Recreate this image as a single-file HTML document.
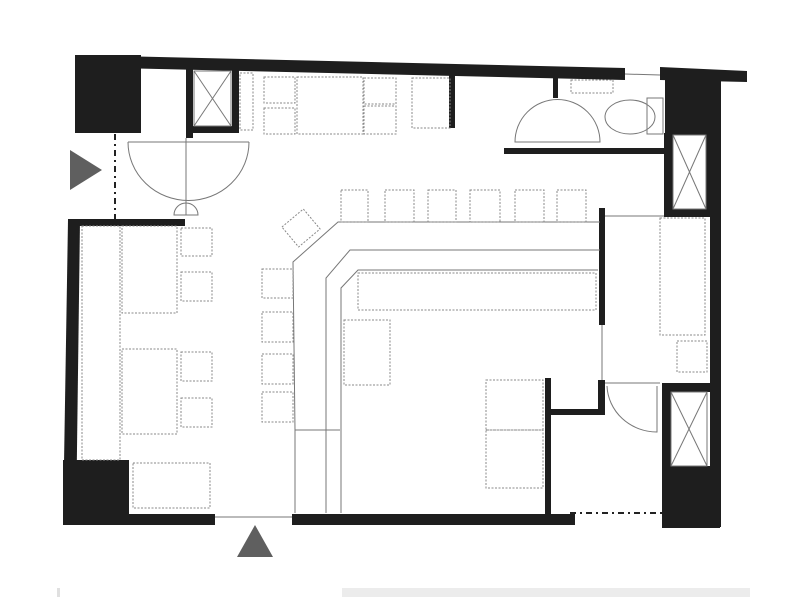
<!DOCTYPE html>
<html><head><meta charset="utf-8"><style>html,body{margin:0;padding:0;background:#fff}svg{display:block}</style></head>
<body>
<svg width="787" height="597" viewBox="0 0 787 597" xmlns="http://www.w3.org/2000/svg">
<rect width="787" height="597" fill="#fff"/>
<g fill="#1e1e1e">
<rect x="75" y="55" width="66" height="78"/>
<polygon points="75,55 625,68 625,80 75,67"/>
<polygon points="660,67 747,71 747,82 660,80"/>
<rect x="665" y="78" width="45" height="57"/>
<rect x="710" y="80" width="11" height="447"/>
<rect x="186" y="66" width="7" height="72"/>
<rect x="232" y="66" width="7" height="67"/>
<rect x="186" y="126" width="53" height="7"/>
<rect x="449" y="72" width="6" height="56"/>
<rect x="553" y="74" width="5" height="24"/>
<rect x="504" y="148" width="166" height="6"/>
<rect x="664" y="133" width="9" height="84"/>
<rect x="664" y="209" width="50" height="8"/>
<rect x="706" y="133" width="5" height="84"/>
<polygon points="68,220 80,220 76,525 63,525"/>
<rect x="68" y="219" width="117" height="7"/>
<rect x="63" y="460" width="66" height="65"/>
<rect x="63" y="514" width="152" height="11"/>
<rect x="292" y="514" width="283" height="11"/>
<rect x="545" y="378" width="6" height="140"/>
<rect x="548" y="409" width="56" height="6"/>
<rect x="598" y="380" width="7" height="35"/>
<rect x="599" y="208" width="6" height="117"/>
<rect x="662" y="383" width="9" height="90"/>
<rect x="662" y="383" width="50" height="9"/>
<rect x="662" y="466" width="58" height="62"/>
</g>
<g fill="none" stroke="#777" stroke-width="1">
<rect x="194" y="71" width="37" height="55"/>
<line x1="194" y1="71" x2="231" y2="126"/><line x1="231" y1="71" x2="194" y2="126"/>
<rect x="673" y="135" width="33" height="74"/>
<line x1="673" y1="135" x2="706" y2="209"/><line x1="706" y1="135" x2="673" y2="209"/>
<rect x="671" y="392" width="36" height="74"/>
<line x1="671" y1="392" x2="707" y2="466"/><line x1="707" y1="392" x2="671" y2="466"/>
<line x1="128" y1="142" x2="249" y2="142"/>
<path d="M128,142 A60,58 0 0 0 249,142"/>
<line x1="186" y1="138" x2="186" y2="215"/>
<path d="M174,215 A12,12 0 0 1 198,215 Z"/>
<path d="M515,142 A42,42 0 0 1 600,142 Z"/>
<ellipse cx="630" cy="117" rx="25" ry="17"/>
<rect x="647" y="98" width="16" height="36"/>
<line x1="625" y1="74" x2="660" y2="75"/>
<line x1="605" y1="216" x2="664" y2="216"/>
<line x1="602" y1="325" x2="602" y2="380"/>
<line x1="605" y1="383" x2="660" y2="383"/>
<path d="M607,386 A50,48 0 0 0 657,432 L657,386"/>
<polyline points="600,222 338,222 293,262 295,430 340,430"/>
<polyline points="600,250 350,250 326,278 326,513"/>
<polyline points="598,270 358,270 341,288 341,513"/>
<line x1="295" y1="430" x2="295" y2="513"/>
<line x1="215" y1="517" x2="292" y2="517"/>
</g>
<g fill="none" stroke="#888" stroke-width="1" stroke-dasharray="2,1.5">
<rect x="240" y="73" width="13" height="57"/>
<rect x="264" y="77" width="31" height="26"/><rect x="264" y="108" width="31" height="26"/>
<rect x="297" y="77" width="66" height="57"/>
<rect x="364" y="78" width="32" height="26"/><rect x="364" y="106" width="32" height="28"/>
<rect x="412" y="78" width="38" height="50"/>
<rect x="571" y="80" width="42" height="13"/>
<rect x="82" y="226" width="38" height="234"/>
<rect x="122" y="226" width="55" height="87"/>
<rect x="122" y="349" width="55" height="85"/>
<rect x="181" y="228" width="31" height="28"/><rect x="181" y="272" width="31" height="29"/>
<rect x="181" y="352" width="31" height="29"/><rect x="181" y="398" width="31" height="29"/>
<rect x="133" y="463" width="77" height="45"/>
<rect x="341" y="190" width="27" height="32"/><rect x="385" y="190" width="29" height="32"/>
<rect x="428" y="190" width="28" height="32"/><rect x="470" y="190" width="30" height="32"/>
<rect x="515" y="190" width="29" height="32"/><rect x="557" y="190" width="29" height="32"/>
<rect x="287" y="215" width="28" height="26" transform="rotate(-40 301 228)"/>
<rect x="262" y="269" width="31" height="29"/><rect x="262" y="312" width="31" height="30"/>
<rect x="262" y="354" width="31" height="30"/><rect x="262" y="392" width="31" height="30"/>
<rect x="358" y="273" width="238" height="37"/>
<rect x="344" y="320" width="46" height="65"/>
<rect x="486" y="380" width="57" height="50"/><rect x="486" y="430" width="57" height="58"/>
<rect x="660" y="218" width="45" height="117"/>
<rect x="677" y="341" width="30" height="31"/>
</g>
<g stroke="#222" stroke-width="2" stroke-dasharray="6,4,2,4" fill="none">
<line x1="115" y1="134" x2="115" y2="219"/>
<line x1="570" y1="513" x2="662" y2="513"/>
</g>
<polygon points="70,150 70,190 102,170" fill="#5f5f5f"/>
<polygon points="237,557 273,557 255,525" fill="#5f5f5f"/>
<rect x="342" y="588" width="408" height="9" fill="#ececec"/>
<rect x="57" y="588" width="3" height="9" fill="#e0e0e0"/>
</svg>
</body></html>
